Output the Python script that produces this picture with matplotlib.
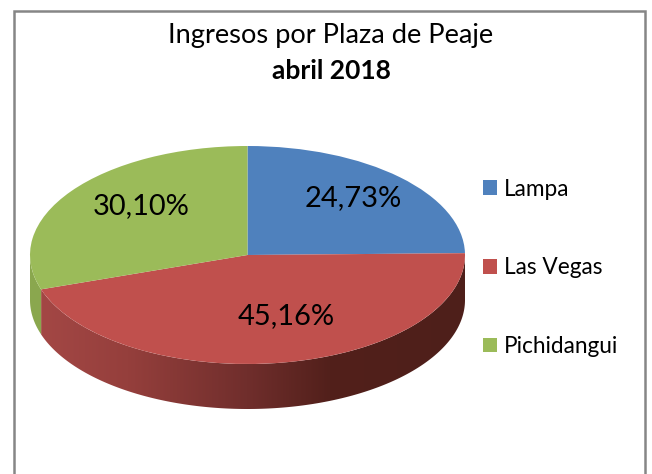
import numpy as np
import matplotlib
matplotlib.use("Agg")
import matplotlib.pyplot as plt
from matplotlib.colors import to_rgb
from matplotlib.patches import Rectangle, Polygon

categories = ["Lampa", "Las Vegas", "Pichidangui"]
shares = [24.73, 45.16, 30.10]
colors = ["#4F81BD", "#C0504D", "#9BBB59"]
title_line1 = "Ingresos por Plaza de Peaje"
title_line2 = "abril 2018"

W, H = 652, 474
CX, CY, RX, RY, DEPTH = 247.5, 255.0, 217.5, 109.0, 45.0
FONT = "Lato"

fig = plt.figure(figsize=(W / 100, H / 100), dpi=100, facecolor="white")
ax = fig.add_axes([0, 0, 1, 1])

wedges, _ = ax.pie(shares, colors=colors, startangle=90, counterclock=False,
                   radius=1, wedgeprops=dict(linewidth=0, zorder=3))
ax.axis("off")

def px(x, y):
    return (x - CX) / RX, (CY - y) / RY

# outer frame (runs off the bottom of the picture)
x0, y0 = px(13.5, 500)
x1, y1 = px(645, 11.5)
ax.add_patch(Rectangle((x0, y0), x1 - x0, y1 - y0, fill=False, edgecolor="#868686",
                       linewidth=1.8, zorder=1))

# pie side wall
stops_x = [-1.0, -0.55, 0.0, 0.38, 1.0]
stops_c = np.array([to_rgb(c) for c in ["#A54846", "#953F3C", "#702E2C", "#52201B", "#4E1F1A"]])
d = DEPTH / RY
green_side = "#8AA74E"
grad_x = np.linspace(-1, 1, 435)
grad = np.stack([np.interp(grad_x, stops_x, stops_c[:, k]) for k in range(3)], axis=-1)[None, :, :]

angle = 90.0
for value, col in zip(shares, colors):
    end = angle - value / 100 * 360
    th = np.radians(np.linspace(end, angle, 300))
    th = th[np.sin(th) <= 0]
    if len(th) > 1:
        xs, ys = np.cos(th), np.sin(th)
        outline = np.r_[np.c_[xs, ys], np.c_[xs[::-1], ys[::-1] - d]]
        if col == colors[1]:
            poly = Polygon(outline, closed=True, facecolor="none", edgecolor="none",
                           transform=ax.transData)
            ax.add_patch(poly)
            im = ax.imshow(grad, extent=(-1, 1, -1 - d, 0.1), aspect="auto",
                           interpolation="bilinear", zorder=2)
            im.set_clip_path(poly)
        else:
            ax.add_patch(Polygon(outline, closed=True, facecolor=green_side,
                                 edgecolor="none", zorder=2))
    angle = end

ax.set_aspect("auto")
ax.set_xlim((0 - CX) / RX, (W - CX) / RX)
ax.set_ylim((CY - H) / RY, (CY - 0) / RY)

# percentage labels
label_pos = [(353, 198), (286, 316), (141, 206)]
for v, (x, y) in zip(shares, label_pos):
    tx, ty = px(x, y)
    ax.text(tx, ty, f"{v:.2f}%".replace(".", ","), ha="center", va="center",
            family=FONT, fontsize=20.9, color="black", zorder=5)

# title
tx, ty = px(331, 35)
ax.text(tx, ty, title_line1, ha="center", va="center", family=FONT, fontsize=19.6, color="black")
tx, ty = px(331, 71)
ax.text(tx, ty, title_line2, ha="center", va="center", family=FONT, fontsize=19.0,
        fontweight="bold", color="black")

# legend
leg = ax.legend(wedges, categories, loc="upper left",
                bbox_to_anchor=(483 / W, 1 - 178.5 / H), bbox_transform=fig.transFigure,
                frameon=False, borderaxespad=0, borderpad=0,
                handlelength=0.62, handleheight=0.62, handletextpad=0.31,
                labelspacing=2.55, prop=dict(family=FONT, size=16.3))

fig.savefig("out.png", dpi=100, facecolor="white")
